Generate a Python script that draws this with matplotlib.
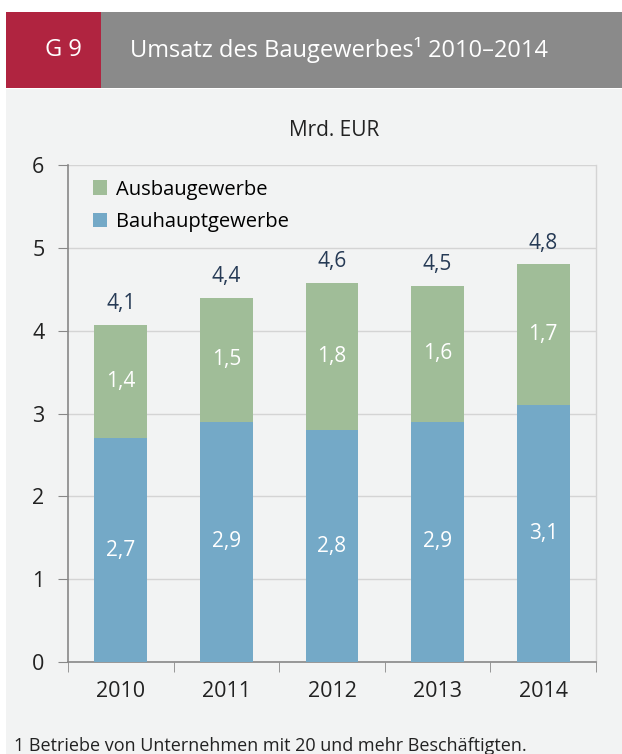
import matplotlib
matplotlib.use("Agg")
import matplotlib.pyplot as plt
from matplotlib.patches import Rectangle
import numpy as np

years = ["2010", "2011", "2012", "2013", "2014"]
bauhaupt = [2.7, 2.9, 2.8, 2.9, 3.1]
ausbau = [1.37, 1.5, 1.78, 1.64, 1.7]
series_names = ["Ausbaugewerbe", "Bauhauptgewerbe"]
yticks = [0, 1, 2, 3, 4, 5, 6]

plt.rcParams['font.family'] = ['Open Sans', 'DejaVu Sans']

W, H = 622, 754
fig = plt.figure(figsize=(W/100, H/100), dpi=100)
fig.patch.set_facecolor("white")

def fx(x): return x / W
def fy(y): return 1 - y / H

# panel background
fig.add_artist(Rectangle((fx(6), 0), 1 - fx(6), fy(89), transform=fig.transFigure,
                         facecolor="#f2f3f3", edgecolor="none", zorder=0))
# header
fig.add_artist(Rectangle((fx(6), fy(88)), fx(95), (76)/H, transform=fig.transFigure,
                         facecolor="#b02440", edgecolor="none", zorder=1))
fig.add_artist(Rectangle((fx(101), fy(88)), 1 - fx(101), (76)/H, transform=fig.transFigure,
                         facecolor="#8a8a8a", edgecolor="none", zorder=1))
fig.text(fx(63), fy(50), "G 9", color="white", fontsize=17, ha="center", va="center")
fig.text(fx(130), fy(50), "Umsatz des Baugewerbes¹ 2010–2014", color="white",
         fontsize=17, ha="left", va="center")

ax = fig.add_axes([fx(68), fy(662), fx(596) - fx(68), (662 - 165) / H])
ax.set_facecolor("#f2f3f3")
x = np.arange(len(years))
green = "#a0bd98"
blue = "#74a9c7"
ax.bar(x, bauhaupt, width=0.5, color=blue, zorder=3, label=series_names[1])
ax.bar(x, ausbau, width=0.5, bottom=bauhaupt, color=green, zorder=3, label=series_names[0])

def fmt(v):
    return f"{v:.1f}".replace(".", ",")

for i in range(len(years)):
    ax.text(x[i], bauhaupt[i] / 2, fmt(bauhaupt[i]), ha="center", va="center",
            color="white", fontsize=15, zorder=4)
    ax.text(x[i], bauhaupt[i] + ausbau[i] / 2, fmt(ausbau[i]), ha="center", va="center",
            color="white", fontsize=15, zorder=4)
    tot = bauhaupt[i] + ausbau[i]
    ax.text(x[i], tot + 0.13, fmt(tot), ha="center", va="bottom",
            color="#263a55", fontsize=15, zorder=4)

ax.set_xlim(-0.5, 4.5)
ax.set_ylim(0, 6)
ax.set_yticks(yticks)
ax.set_yticklabels([str(t) for t in yticks], fontsize=15.5, color="#222222")
ax.yaxis.grid(True, color="#d4d4d4", linewidth=1, zorder=1)
ax.set_xticks(x)
ax.set_xticklabels(years, fontsize=15.5, color="#222222")
ax.tick_params(axis="x", length=0, pad=14)
ax.set_xticks(np.arange(-0.5, 5, 1), minor=True)
ax.tick_params(axis="x", which="minor", length=7, color="#888888", direction="out")
ax.tick_params(axis="y", length=7, color="#888888", pad=10)
for s in ["top", "right"]:
    ax.spines[s].set_visible(False)
ax.spines["left"].set_color("#888888")
ax.spines["bottom"].set_color("#888888")
ax.spines["left"].set_linewidth(1.2)
ax.spines["bottom"].set_linewidth(1.2)
ax.plot([1, 1], [0, 1], transform=ax.transAxes, color="#d4d4d4", linewidth=1, clip_on=False, zorder=1)

handles, labels = ax.get_legend_handles_labels()
leg = ax.legend(handles[::-1], labels[::-1], loc="upper left", bbox_to_anchor=(0.025, 0.995),
                frameon=False, fontsize=14.5, handlelength=0.7, handleheight=0.7,
                handletextpad=0.45, labelspacing=0.6, borderaxespad=0.2)

fig.text(fx(334), fy(130), "Mrd. EUR", fontsize=15, ha="center", va="center", color="#222222")
fig.text(fx(14), fy(746), "1 Betriebe von Unternehmen mit 20 und mehr Beschäftigten.",
         fontsize=13, ha="left", va="center", color="#222222")

fig.savefig("out.png", dpi=100)
